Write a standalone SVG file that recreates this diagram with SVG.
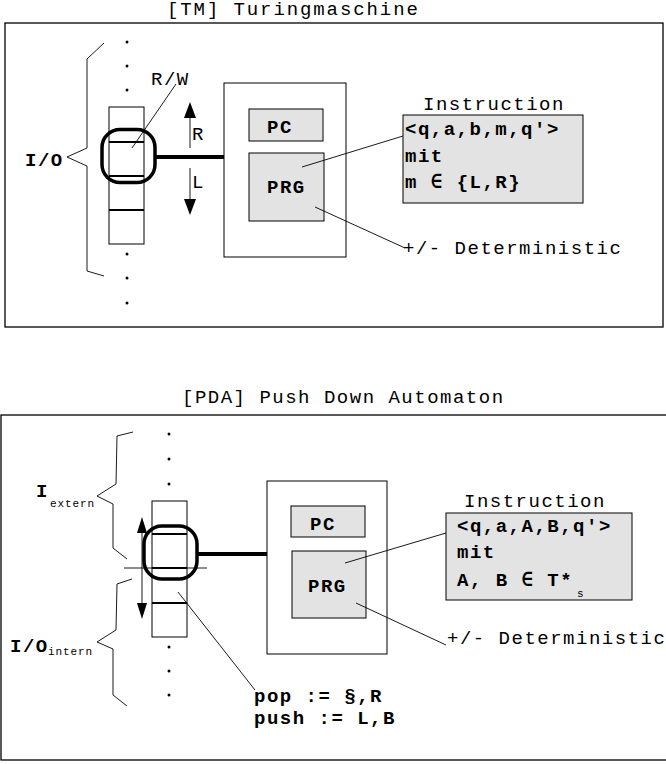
<svg xmlns="http://www.w3.org/2000/svg" width="666" height="764" viewBox="0 0 666 764">
<style>
text{font-family:"Liberation Mono","DejaVu Sans Mono",monospace;font-size:19px;letter-spacing:1.5px;fill:#000}
.b{font-weight:bold}
.sm{font-size:11px;letter-spacing:0.9px}
.fr{fill:none;stroke:#000;stroke-width:1.3}
.thin{fill:none;stroke:#000;stroke-width:0.9}
.g{fill:#e3e3e3;stroke:#000;stroke-width:1}
.box{fill:#fff;stroke:#000;stroke-width:1}
.tape{fill:#fff;stroke:#000;stroke-width:1}
.cell{stroke:#000;stroke-width:2}
.head{fill:none;stroke:#000;stroke-width:3.5}
.bus{stroke:#000;stroke-width:4}
.dot{fill:#000}
</style>

<!-- ===== Turing machine ===== -->
<text id="title-tm" x="167" y="15" style="letter-spacing:1.9px">[TM] Turingmaschine</text>
<rect id="frame-tm" class="fr" x="5" y="23" width="658" height="304"/>

<g id="tm-io">
  <path class="thin" d="M104,43 L87,59 L87,148 L67,157 L87,166 L87,271 L104,276"/>
  <text class="b" x="25" y="166">I/O</text>
</g>
<g id="tm-tape">
  <circle class="dot" cx="127" cy="42" r="1.5"/>
  <circle class="dot" cx="127" cy="66" r="1.5"/>
  <circle class="dot" cx="127" cy="90" r="1.5"/>
  <circle class="dot" cx="127" cy="254" r="1.5"/>
  <circle class="dot" cx="127" cy="278" r="1.5"/>
  <circle class="dot" cx="127" cy="303" r="1.5"/>
  <rect class="tape" x="109" y="107" width="35" height="137"/>
  <line class="cell" x1="109" y1="142" x2="144" y2="142"/>
  <line class="cell" x1="109" y1="176" x2="144" y2="176"/>
  <line class="cell" x1="109" y1="210" x2="144" y2="210"/>
</g>
<g id="tm-head">
  <rect class="head" x="102" y="129.5" width="53" height="53" rx="18"/>
  <text x="151" y="85">R/W</text>
</g>
<g id="tm-move">
  <text x="192" y="140">R</text>
  <text x="192" y="188">L</text>
</g>
<g id="tm-control">
  <rect class="box" x="224" y="83" width="122" height="174"/>
</g>
<g id="tm-pc">
  <rect class="g" x="249" y="109" width="74" height="32"/>
  <text class="b" x="267" y="133">PC</text>
</g>
<g id="tm-prg">
  <rect class="g" x="249" y="153" width="75" height="68"/>
  <text class="b" x="267" y="193">PRG</text>
</g>
<g id="tm-instruction">
  <text x="423" y="110">Instruction</text>
  <rect class="g" x="403" y="115" width="180" height="88"/>
  <text class="b" x="405" y="135">&lt;q,a,b,m,q'&gt;</text>
  <text class="b" x="405" y="162">mit</text>
  <text class="b" x="405" y="188">m ∈ {L,R}</text>
</g>
<g id="tm-det">
  <text x="403" y="254">+/- Deterministic</text>
</g>

<g id="tm-connectors">
  <line class="bus" x1="155" y1="157" x2="224" y2="157"/>
  <line class="thin" x1="176" y1="84" x2="132" y2="148"/>
  <line class="thin" x1="190" y1="148" x2="190" y2="115"/>
  <polygon points="190,102 184,118 196,118"/>
  <line class="thin" x1="190" y1="168" x2="190" y2="201"/>
  <polygon points="190,215 184,199 196,199"/>
  <line class="thin" x1="302" y1="167" x2="403" y2="136"/>
  <line class="thin" x1="315" y1="207" x2="405" y2="248"/>
</g>

<!-- ===== Push down automaton ===== -->
<text id="title-pda" x="182" y="403">[PDA] Push Down Automaton</text>
<rect id="frame-pda" class="fr" x="1" y="415" width="690" height="345"/>

<g id="pda-extern">
  <path class="thin" d="M133,432 L117,436 L116,484 L97,496 L113,504 L113,548 L127,559"/>
  <text class="b" x="36" y="497">I</text>
  <text class="sm" x="50" y="507">extern</text>
</g>
<g id="pda-intern">
  <path class="thin" d="M132,579 L117,584 L116,630 L97,642 L113,649 L113,695 L127,706"/>
  <text class="b" x="10" y="652">I/O</text>
  <text class="sm" x="48" y="655">intern</text>
</g>
<g id="pda-tape">
  <circle class="dot" cx="169" cy="434" r="1.5"/>
  <circle class="dot" cx="169" cy="459" r="1.5"/>
  <circle class="dot" cx="169" cy="484" r="1.5"/>
  <circle class="dot" cx="169" cy="647" r="1.5"/>
  <circle class="dot" cx="169" cy="671" r="1.5"/>
  <circle class="dot" cx="169" cy="695" r="1.5"/>
  <rect class="tape" x="152" y="501" width="35" height="136"/>
  <line class="cell" x1="152" y1="534" x2="187" y2="534"/>
  <line class="cell" x1="152" y1="568" x2="187" y2="568"/>
  <line class="cell" x1="152" y1="603" x2="187" y2="603"/>
</g>
<g id="pda-head">
  <rect class="head" x="144" y="526" width="53" height="53" rx="18"/>
</g>
<g id="pda-control">
  <rect class="box" x="267" y="481" width="120" height="173"/>
</g>
<g id="pda-pc">
  <rect class="g" x="291" y="506" width="74" height="31"/>
  <text class="b" x="310" y="530">PC</text>
</g>
<g id="pda-prg">
  <rect class="g" x="292" y="551" width="74" height="67"/>
  <text class="b" x="308" y="592">PRG</text>
</g>
<g id="pda-instruction">
  <text x="464" y="507">Instruction</text>
  <rect class="g" x="446" y="513" width="186" height="87"/>
  <text class="b" x="457" y="532">&lt;q,a,A,B,q'&gt;</text>
  <text class="b" x="457" y="558">mit</text>
  <text class="b" x="457" y="586">A, B ∈ T*</text>
  <text class="sm" x="577" y="597">s</text>
</g>
<g id="pda-det">
  <text x="447" y="644">+/- Deterministic</text>
</g>
<g id="pda-ops">
  <text class="b" x="254" y="702">pop := §,R</text>
  <text class="b" x="254" y="724">push := L,B</text>
</g>

<g id="pda-connectors">
  <line class="bus" x1="197" y1="554" x2="267" y2="554"/>
  <line class="thin" x1="124" y1="568" x2="207" y2="568"/>
  <line class="thin" x1="142" y1="530" x2="142" y2="606"/>
  <polygon points="142,517 137,533 147,533"/>
  <polygon points="142,619 137,603 147,603"/>
  <line class="thin" x1="178" y1="592" x2="255" y2="690"/>
  <line class="thin" x1="345" y1="563" x2="446" y2="533"/>
  <line class="thin" x1="356" y1="603" x2="446" y2="645"/>
</g>
</svg>
